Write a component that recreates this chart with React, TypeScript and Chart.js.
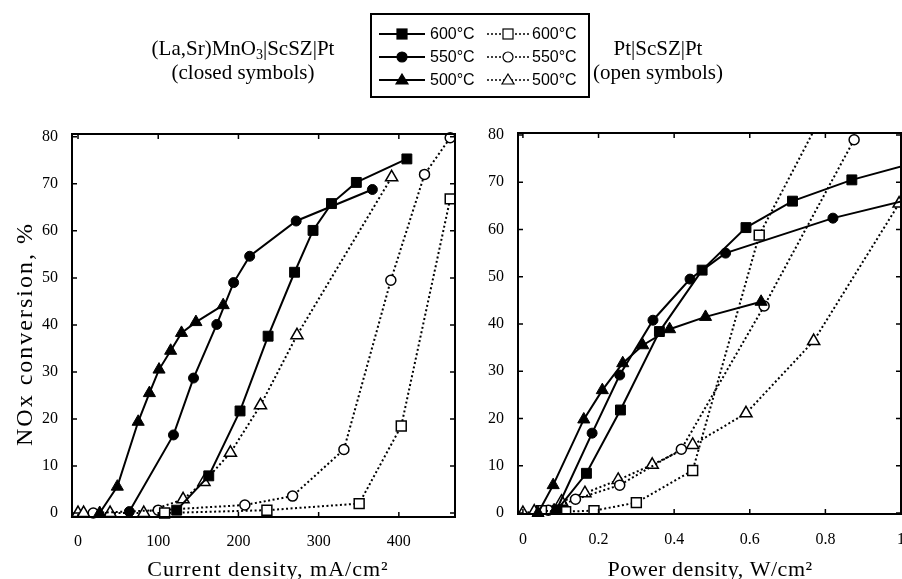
import React, { useEffect, useRef } from "react";
import { Chart, registerables } from "chart.js";
Chart.register(...registerables);

type P = [number, number];

// ---------- data ----------
const TEMP_LABELS = ["600°C", "550°C", "500°C"];

// Left panel: NOx conversion (%) vs current density (mA/cm2)
const CUR_LSM_600: P[] = [[123, 0.6], [163, 7.9], [202, 21.7], [237, 37.6], [270, 51.2], [293, 60.1], [316, 65.8], [347, 70.3], [410, 75.3]];
const CUR_LSM_550: P[] = [[64, 0.3], [119, 16.6], [144, 28.7], [173, 40.1], [194, 49], [214, 54.6], [272, 62.1], [367, 68.8]];
const CUR_LSM_500: P[] = [[27, 0], [49, 5.6], [75, 19.4], [89, 25.5], [101, 30.5], [115.5, 34.5], [129, 38.3], [147, 40.6], [181, 44.2]];
const CUR_PT_600: P[] = [[108, 0], [235.5, 0.6], [350.5, 2], [403, 18.5], [464, 66.8]];
const CUR_PT_550: P[] = [[19, 0], [100, 0.6], [208, 1.7], [267.5, 3.6], [331.5, 13.5], [390, 49.5], [432, 72], [464, 79.8]];
const CUR_PT_500: P[] = [[0, 0], [7, 0], [40, 0], [82, 0], [131, 2.9], [157, 6.6], [190, 12.8], [227.5, 22.9], [273, 37.8], [391, 71.4]];

// Right panel: NOx conversion (%) vs power density (W/cm2)
const POW_LSM_600: P[] = [[0.09, 0.6], [0.168, 8.4], [0.258, 21.8], [0.361, 38.4], [0.474, 51.4], [0.59, 60.4], [0.713, 66], [0.87, 70.5], [1.05, 74.4]];
const POW_LSM_550: P[] = [[0.085, 0], [0.183, 16.9], [0.256, 29.2], [0.344, 40.8], [0.442, 49.5], [0.536, 55], [0.82, 62.4], [1.05, 66.9]];
const POW_LSM_500: P[] = [[0.04, 0], [0.08, 5.9], [0.161, 19.8], [0.21, 26], [0.264, 31.7], [0.317, 35.5], [0.388, 38.9], [0.483, 41.5], [0.63, 44.7]];
const POW_PT_600: P[] = [[0.049, 0.5], [0.113, 0.3], [0.188, 0.5], [0.3, 2.2], [0.449, 9], [0.625, 58.8], [0.8, 85.6]];
const POW_PT_550: P[] = [[0.067, 0.6], [0.139, 2.9], [0.256, 5.9], [0.419, 13.5], [0.638, 43.8], [0.876, 79]];
const POW_PT_500: P[] = [[0, 0], [0.03, 0.3], [0.102, 2.4], [0.164, 4.2], [0.252, 7], [0.342, 10.2], [0.449, 14.4], [0.59, 21.1], [0.769, 36.4], [0.995, 65.5]];

const NOX_TICKS = [0, 10, 20, 30, 40, 50, 60, 70, 80];
const CUR_TICKS = [0, 100, 200, 300, 400];
const POW_TICKS = [0, 0.2, 0.4, 0.6, 0.8, 1];
const POW_TICK_LABELS = ["0", "0.2", "0.4", "0.6", "0.8", "1"];

// ---------- styling ----------
const SHAPES = ["rect", "circle", "triangle"];
const RADII = [7, 5, 7];
const SERIF = '"Liberation Serif", "Times New Roman", serif';
const SANS = '"Liberation Sans", Arial, sans-serif';

function makeDataset(points: P[], tempIdx: number, closed: boolean, clip: any) {
  return {
    label: TEMP_LABELS[tempIdx],
    data: points.map(([x, y]) => ({ x, y })),
    borderColor: "#000",
    borderWidth: 2,
    borderDash: closed ? [] : [2, 2.5],
    pointStyle: SHAPES[tempIdx],
    pointRadius: RADII[tempIdx],
    pointBackgroundColor: closed ? "#000" : "#fff",
    pointBorderColor: "#000",
    pointBorderWidth: closed ? 1 : 1.5,
    tension: 0,
    clip,
    order: closed ? 0 : 1,
  };
}

const framePlugin = {
  id: "frame",
  afterDatasetsDraw(chart: any, _args: any, o: any) {
    const { ctx, chartArea: a, scales } = chart;
    ctx.save();
    ctx.strokeStyle = "#000";
    ctx.lineWidth = 2;
    ctx.strokeRect(a.left, a.top, a.right - a.left, a.bottom - a.top);
    ctx.lineWidth = 1.5;
    const tl = 5;
    ctx.beginPath();
    for (const t of scales.x.ticks) {
      const px = scales.x.getPixelForValue(t.value);
      ctx.moveTo(px, a.bottom);
      ctx.lineTo(px, a.bottom - tl);
      ctx.moveTo(px, a.top);
      ctx.lineTo(px, a.top + tl);
    }
    for (const t of scales.y.ticks) {
      const py = scales.y.getPixelForValue(t.value);
      ctx.moveTo(a.left, py);
      ctx.lineTo(a.left + tl, py);
      ctx.moveTo(a.right, py);
      ctx.lineTo(a.right - tl, py);
    }
    ctx.stroke();
    ctx.fillStyle = "#000";
    ctx.textAlign = "center";
    if (o.xTitle) {
      ctx.font = `${o.xSize}px ${SERIF}`;
      ctx.letterSpacing = o.xSpacing || "0px";
      ctx.textBaseline = "alphabetic";
      ctx.fillText(o.xTitle, o.xTitleX, o.xTitleY);
    }
    if (o.yTitle) {
      ctx.font = `${o.ySize}px ${SERIF}`;
      ctx.letterSpacing = o.ySpacing || "0px";
      ctx.textBaseline = "middle";
      ctx.translate(o.yTitleX, o.yTitleY);
      ctx.rotate(-Math.PI / 2);
      ctx.fillText(o.yTitle, 0, 0);
    }
    ctx.restore();
  },
};

function axisOpts(min: number, max: number, ticks: number[], labels: string[] | null, fitSize: number, isX: boolean, pad: number) {
  return {
    type: "linear",
    min,
    max,
    grid: { display: false },
    border: { display: false },
    afterBuildTicks: (s: any) => {
      s.ticks = ticks.map((v) => ({ value: v }));
    },
    afterFit: (s: any) => {
      if (isX) {
        s.height = fitSize;
        s.paddingLeft = 0;
        s.paddingRight = 0;
      } else {
        s.width = fitSize;
        s.paddingTop = 0;
        s.paddingBottom = 0;
      }
    },
    ticks: {
      color: "#000",
      font: { family: SERIF, size: 16 },
      padding: pad,
      maxRotation: 0,
      autoSkip: false,
      callback: (v: any, i: number) => (labels ? labels[i] : String(v)),
    },
  };
}

function LegendSample({ shape, closed, width }: { shape: number; closed: boolean; width: number }) {
  const fill = closed ? "#000" : "#fff";
  const cx = width / 2;
  const cy = 7;
  let marker: any = null;
  if (shape === 0) marker = <rect x={cx - 5} y={cy - 5} width={10} height={10} fill={fill} stroke="#000" strokeWidth={1.2} />;
  else if (shape === 1) marker = <circle cx={cx} cy={cy} r={5} fill={fill} stroke="#000" strokeWidth={1.2} />;
  else marker = <polygon points={`${cx},${cy - 6} ${cx + 6},${cy + 4} ${cx - 6},${cy + 4}`} fill={fill} stroke="#000" strokeWidth={1.2} />;
  return (
    <svg width={width} height={14} style={{ display: "block" }}>
      <line x1={0} y1={cy} x2={width} y2={cy} stroke="#000" strokeWidth={closed ? 2 : 1.6} strokeDasharray={closed ? undefined : "2 2"} />
      {marker}
    </svg>
  );
}

export default function App() {
  const leftRef = useRef<HTMLCanvasElement>(null);
  const rightRef = useRef<HTMLCanvasElement>(null);

  useEffect(() => {
    const common = {
      responsive: false,
      animation: false,
      events: [],
    };
    const left = new Chart(leftRef.current as HTMLCanvasElement, {
      type: "line",
      data: {
        datasets: [
          makeDataset(CUR_PT_600, 0, false, 6),
          makeDataset(CUR_PT_550, 1, false, 6),
          makeDataset(CUR_PT_500, 2, false, 6),
          makeDataset(CUR_LSM_600, 0, true, 6),
          makeDataset(CUR_LSM_550, 1, true, 6),
          makeDataset(CUR_LSM_500, 2, true, 6),
        ],
      },
      options: {
        ...common,
        layout: { autoPadding: false, padding: { top: 134, right: 15, left: 0, bottom: 0 } },
        scales: {
          x: axisOpts(-7.5, 470, CUR_TICKS, null, 62, true, 7),
          y: axisOpts(-0.85, 80.6, NOX_TICKS, null, 72, false, 6),
        },
        plugins: {
          legend: { display: false },
          tooltip: { enabled: false },
          frame: {
            xTitle: "Current density, mA/cm²",
            xTitleX: 268,
            xTitleY: 576,
            xSize: 22,
            xSpacing: "1px",
            yTitle: "NOx conversion, %",
            yTitleX: 26,
            yTitleY: 334,
            ySize: 24,
            ySpacing: "2px",
          },
        },
      } as any,
      plugins: [framePlugin],
    } as any);

    const right = new Chart(rightRef.current as HTMLCanvasElement, {
      type: "line",
      data: {
        datasets: [
          makeDataset(POW_PT_600, 0, false, 0),
          makeDataset(POW_PT_550, 1, false, 6),
          makeDataset(POW_PT_500, 2, false, 0),
          makeDataset(POW_LSM_600, 0, true, 0),
          makeDataset(POW_LSM_550, 1, true, 0),
          makeDataset(POW_LSM_500, 2, true, 6),
        ],
      },
      options: {
        ...common,
        layout: { autoPadding: false, padding: { top: 133, right: 1, left: 0, bottom: 0 } },
        scales: {
          x: axisOpts(-0.013, 1.0, POW_TICKS, POW_TICK_LABELS, 65, true, 8),
          y: axisOpts(-0.21, 80.42, NOX_TICKS, null, 48, false, 6),
        },
        plugins: {
          legend: { display: false },
          tooltip: { enabled: false },
          frame: {
            xTitle: "Power density, W/cm²",
            xTitleX: 240,
            xTitleY: 576,
            xSize: 22,
            xSpacing: "0.5px",
          },
        },
      } as any,
      plugins: [framePlugin],
    } as any);

    return () => {
      left.destroy();
      right.destroy();
    };
  }, []);

  const headerStyle: React.CSSProperties = {
    position: "absolute",
    top: 36,
    width: 300,
    textAlign: "center",
    fontFamily: SERIF,
    fontSize: 21,
    lineHeight: "24px",
    color: "#000",
    whiteSpace: "nowrap",
  };
  const rowTops = [12, 35, 58];
  const legendText: React.CSSProperties = {
    position: "absolute",
    fontFamily: SANS,
    fontSize: 16,
    lineHeight: "18px",
    color: "#000",
  };

  return (
    <div style={{ position: "fixed", left: 0, top: 0, width: 902, height: 579, background: "#fff", overflow: "hidden" }}>
      <canvas ref={leftRef} width={470} height={579} style={{ position: "absolute", left: 0, top: 0, width: 470, height: 579 }} />
      <canvas ref={rightRef} width={432} height={579} style={{ position: "absolute", left: 470, top: 0, width: 432, height: 579 }} />

      <div style={{ ...headerStyle, left: 243 - 150 }}>
        (La,Sr)MnO<sub style={{ fontSize: 14, lineHeight: 0, verticalAlign: "-4px" }}>3</sub>|ScSZ|Pt
        <br />
        (closed symbols)
      </div>
      <div style={{ ...headerStyle, left: 658 - 150 }}>
        Pt|ScSZ|Pt
        <br />
        (open symbols)
      </div>

      <div
        style={{
          position: "absolute",
          left: 370,
          top: 13,
          width: 220,
          height: 85,
          border: "2px solid #000",
          boxSizing: "border-box",
          background: "#fff",
        }}
      >
        {TEMP_LABELS.map((t, i) => (
          <React.Fragment key={t}>
            <div style={{ position: "absolute", left: 7, top: rowTops[i] }}>
              <LegendSample shape={i} closed={true} width={46} />
            </div>
            <div style={{ ...legendText, left: 58, top: rowTops[i] - 2 }}>{t}</div>
            <div style={{ position: "absolute", left: 115, top: rowTops[i] }}>
              <LegendSample shape={i} closed={false} width={42} />
            </div>
            <div style={{ ...legendText, left: 160, top: rowTops[i] - 2 }}>{t}</div>
          </React.Fragment>
        ))}
      </div>
    </div>
  );
}
